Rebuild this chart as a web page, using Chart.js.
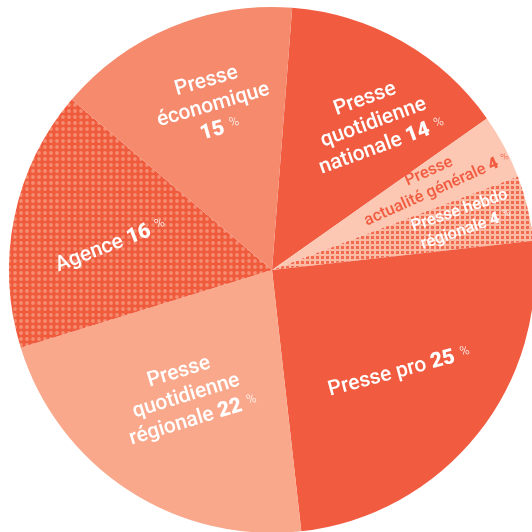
<!DOCTYPE html>
<html>
<head>
<meta charset="utf-8">
<script src="https://cdn.jsdelivr.net/npm/chart.js@4.4.1/dist/chart.umd.min.js"></script>
<style>
  html, body { margin: 0; padding: 0; background: #fff; overflow: hidden; }
  #wrap { position: absolute; left: 0; top: 0; width: 544px; height: 540px; }
</style>
</head>
<body>
<div id="wrap"><canvas id="pie"></canvas></div>
<script>
// Répartition des titres par type de presse (%)
const categories = [
  'Presse quotidienne nationale',
  'Presse actualité générale',
  'Presse hebdo régionale',
  'Presse pro',
  'Presse quotidienne régionale',
  'Agence',
  'Presse économique'
];
const valeurs = [14, 4, 4, 25, 22, 16, 15];
// texte affiché avant le nombre, ligne par ligne
const lignesLabels = [
  ['Presse', 'quotidienne', 'nationale'],
  ['Presse', 'actualité générale'],
  ['Presse hebdo', 'régionale'],
  ['Presse pro'],
  ['Presse', 'quotidienne', 'régionale'],
  ['Agence'],
  ['Presse', 'économique', '']
];

// motifs pointillés
function motif(taille, fond, point, dessin) {
  const c = document.createElement('canvas');
  c.width = taille; c.height = taille;
  const g = c.getContext('2d');
  g.fillStyle = fond;
  g.fillRect(0, 0, taille, taille);
  g.fillStyle = point;
  dessin(g);
  return g.createPattern(c, 'repeat');
}
const motifAgence = motif(6, '#f05b3e', '#f58d70', g => {
  g.beginPath(); g.arc(3, 3, 1.9, 0, Math.PI * 2); g.fill();
});
const motifHebdo = motif(5, '#fbbba5', '#f26b4f', g => {
  g.fillRect(1, 1, 3, 3);
});

const couleurs = ['#f15c41', '#fcc7b3', motifHebdo, '#f15c41', '#f9a88b', motifAgence, '#f58a6d'];

// placement des étiquettes (fraction du rayon, décalage angulaire en degrés, rotation, taille, couleur)
const placement = [
  { r: 0.68, da: 5,  rot: -20, size: 21, color: '#fff', lh: 25 },
  { r: 0.70, da: -1, rot: -24, size: 16.5, color: '#f15c41', lh: 20 },
  { r: 0.75, da: -1, rot: -19, size: 16.5, color: '#fff', lh: 20 },
  { r: 0.62, da: 0,  rot: -15, size: 21, color: '#fff', lh: 25 },
  { r: 0.58, da: 1,  rot: -17, size: 21, color: '#fff', lh: 25 },
  { r: 0.62, da: -3, rot: -21, size: 21, color: '#fff', lh: 25 },
  { r: 0.665, da: 3, rot: -16, size: 21, color: '#fff', lh: 25 }
];

const FONT = 'Roboto, "Open Sans", sans-serif';

const etiquettes = {
  id: 'etiquettes',
  afterDatasetsDraw(chart) {
    const ctx = chart.ctx;
    const meta = chart.getDatasetMeta(0);
    meta.data.forEach((arc, i) => {
      const p = placement[i];
      const { x, y, startAngle, endAngle, outerRadius } = arc.getProps(['x', 'y', 'startAngle', 'endAngle', 'outerRadius'], true);
      const mid = (startAngle + endAngle) / 2 + p.da * Math.PI / 180;
      const lx = x + Math.cos(mid) * outerRadius * p.r;
      const ly = y + Math.sin(mid) * outerRadius * p.r;
      const lignes = lignesLabels[i];
      const n = lignes.length;
      const fNorm = `500 ${p.size}px ${FONT}`;
      const fNum = `900 ${p.size}px ${FONT}`;
      const fPct = `300 ${Math.round(p.size * 0.62)}px ${FONT}`;
      ctx.save();
      ctx.translate(lx, ly);
      ctx.rotate(p.rot * Math.PI / 180);
      ctx.fillStyle = p.color;
      ctx.textBaseline = 'middle';
      ctx.textAlign = 'left';
      lignes.forEach((txt, k) => {
        const yy = (k - (n - 1) / 2) * p.lh;
        const derniere = k === n - 1;
        const parts = [];
        if (txt) parts.push({ t: txt + (derniere ? ' ' : ''), f: fNorm });
        if (derniere) {
          parts.push({ t: String(valeurs[i]), f: fNum });
          parts.push({ t: '  %', f: fPct, dy: -p.size * 0.12 });
        }
        let w = 0;
        parts.forEach(s => { ctx.font = s.f; s.w = ctx.measureText(s.t).width; w += s.w; });
        let xx = -w / 2;
        parts.forEach(s => {
          ctx.font = s.f;
          ctx.fillText(s.t, xx, yy + (s.dy || 0));
          xx += s.w;
        });
      });
      ctx.restore();
    });
  }
};

new Chart(document.getElementById('pie'), {
  type: 'pie',
  data: {
    labels: categories,
    datasets: [{
      data: valeurs,
      backgroundColor: couleurs,
      borderWidth: 0,
      hoverOffset: 0
    }]
  },
  options: {
    responsive: true,
    maintainAspectRatio: false,
    animation: false,
    rotation: 4.4,
    layout: { padding: 7 },
    plugins: {
      legend: { display: false },
      tooltip: { enabled: false }
    }
  },
  plugins: [etiquettes]
});
</script>
</body>
</html>
